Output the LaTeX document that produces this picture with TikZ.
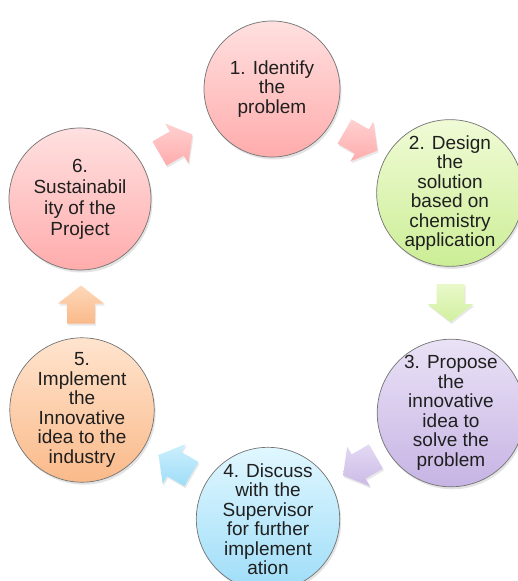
\documentclass[tikz,border=0pt]{standalone}
\usepackage{fontspec}
\setmainfont{Liberation Sans}
\usetikzlibrary{calc,shadows}
\definecolor{pinkT}{RGB}{255,224,224}
\definecolor{pinkB}{RGB}{255,172,172}
\definecolor{greenT}{RGB}{240,251,214}
\definecolor{greenB}{RGB}{204,238,150}
\definecolor{lavT}{RGB}{234,226,246}
\definecolor{lavB}{RGB}{198,180,228}
\definecolor{cyanT}{RGB}{224,247,255}
\definecolor{cyanB}{RGB}{158,221,248}
\definecolor{peachT}{RGB}{255,228,206}
\definecolor{peachB}{RGB}{250,186,138}
\newcommand\blockarr[4]{%
  \path[shift={(#1)}, top color=#3, bottom color=#4,
        drop shadow={opacity=0.18, shadow xshift=1pt, shadow yshift=-2pt}]
    (#2:19) -- (#2+87.51:23.02) -- (#2+85.91:14.04) -- (#2+143.62:23.6)
    -- (#2-143.62:23.6) -- (#2-85.91:14.04) -- (#2-87.51:23.02) -- cycle;}
\begin{document}
\begin{tikzpicture}[x=1pt,y=-1pt,
  stage/.style={circle, draw=black!55, line width=0.7pt, inner sep=0pt,
    align=center, font=\fontsize{19}{19.5}\selectfont, text=black!88,
    drop shadow={opacity=0.22, shadow xshift=1.5pt, shadow yshift=-2.5pt}},
]
\useasboundingbox (0,0) rectangle (518,581);
\node[stage, minimum size=136pt, top color=pinkT, bottom color=pinkB] (c1) at (272,89)
  {1. Identify\\the\\problem};
\node[stage, minimum size=136pt, top color=greenT, bottom color=greenB] (c2) at (450,193)
  {2. Design\\the\\solution\\based on\\chemistry\\application};
\node[stage, minimum size=134pt, top color=lavT, bottom color=lavB] (c3) at (451,413)
  {3. Propose\\the\\innovative\\idea to\\solve the\\problem};
\node[stage, minimum size=138pt, top color=cyanT, bottom color=cyanB] (c4) at (268,519)
  {4. Discuss\\with the\\Supervisor\\for further\\implement\\ation};
\node[stage, minimum size=144pt, top color=peachT, bottom color=peachB] (c5) at (82,410)
  {5.\\Implement\\the\\Innovative\\idea to the\\industry};
\node[stage, minimum size=142pt, top color=pinkT, bottom color=pinkB,
  font=\fontsize{19}{21}\selectfont] (c6) at (80,199)
  {6.\\Sustainabil\\ity of the\\Project};
\coordinate (a61) at ($(c6)!0.5!(c1)$);
\coordinate (a12) at ($(c1)!0.5!(c2)$);
\coordinate (a23) at ($(c2)!0.5!(c3)$);
\coordinate (a34) at ($(c3)!0.5!(c4)$);
\coordinate (a45) at ($(c4)!0.5!(c5)$);
\coordinate (a56) at ($(c5)!0.5!(c6)$);
\blockarr{a61}{-30}{pinkT!70!pinkB}{pinkB}
\blockarr{a12}{30}{pinkT!70!pinkB}{pinkB}
\blockarr{a23}{90}{greenT!80!greenB}{greenB!85!greenT}
\blockarr{a34}{150}{lavT!80!lavB}{lavB!85!lavT}
\blockarr{a45}{210}{cyanT!70!cyanB}{cyanB}
\blockarr{a56}{270}{peachT!70!peachB}{peachB}
\end{tikzpicture}
\end{document}
